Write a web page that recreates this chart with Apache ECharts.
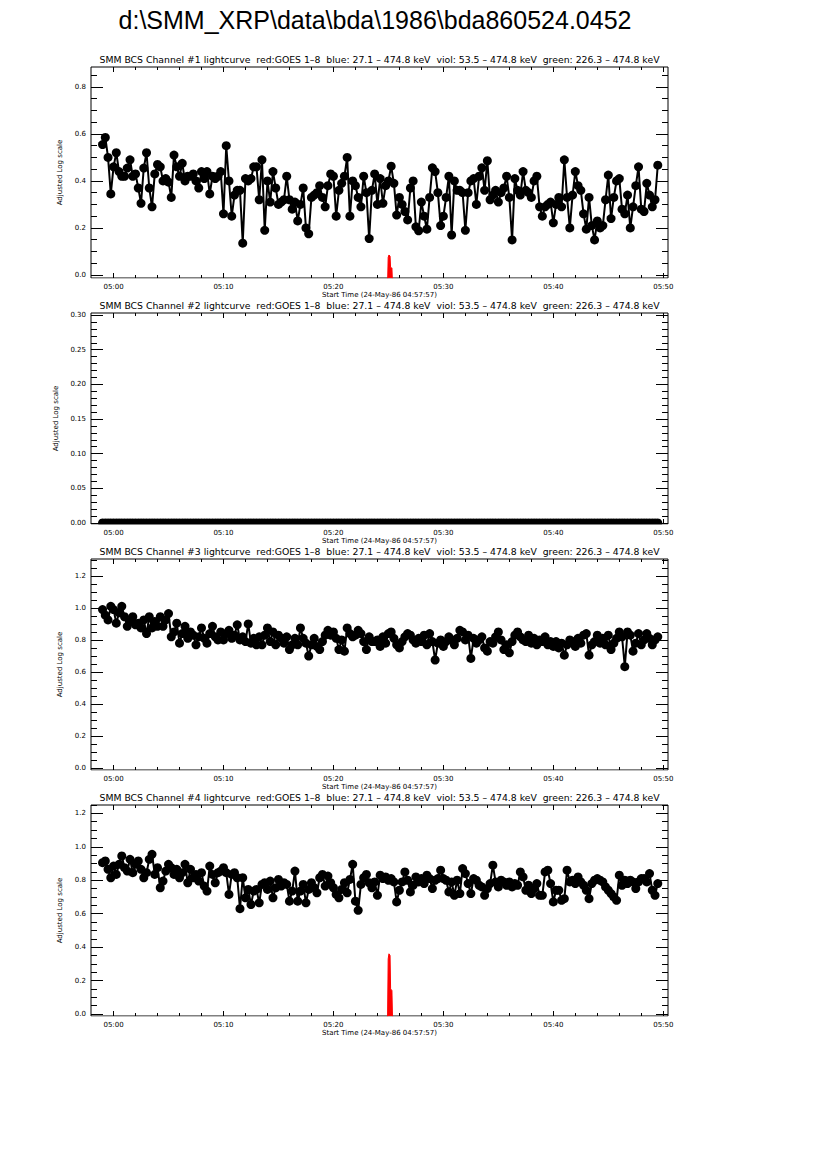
<!DOCTYPE html>
<html>
<head>
<meta charset="utf-8">
<title>bda860524.0452</title>
<script src="https://cdn.jsdelivr.net/npm/echarts@6.0.0/dist/echarts.min.js"></script>
<style>
  html, body { margin: 0; padding: 0; background: #fff; }
  #chart { width: 826px; height: 1169px; }
</style>
</head>
<body>
<div id="chart"></div>
<script>
// sample times, minutes after 05:00 UT
const times = [
  -1, -0.75, -0.5, -0.25,
  0, 0.25, 0.5, 0.75, 1, 1.25, 1.5, 1.75, 2, 2.25, 2.5, 2.75, 3, 3.25, 3.5, 3.75,
  4, 4.25, 4.5, 4.75, 5, 5.25, 5.5, 5.75, 6, 6.25, 6.5, 6.75, 7, 7.25, 7.5, 7.75,
  8, 8.25, 8.5, 8.75, 9, 9.25, 9.5, 9.75, 10, 10.25, 10.5, 10.75, 11, 11.25, 11.5, 11.75,
  12, 12.25, 12.5, 12.75, 13, 13.25, 13.5, 13.75, 14, 14.25, 14.5, 14.75, 15, 15.25, 15.5, 15.75,
  16, 16.25, 16.5, 16.75, 17, 17.25, 17.5, 17.75, 18, 18.25, 18.5, 18.75, 19, 19.25, 19.5, 19.75,
  20, 20.25, 20.5, 20.75, 21, 21.25, 21.5, 21.75, 22, 22.25, 22.5, 22.75, 23, 23.25, 23.5, 23.75,
  24, 24.25, 24.5, 24.75, 25, 25.25, 25.5, 25.75, 26, 26.25, 26.5, 26.75, 27, 27.25, 27.5, 27.75,
  28, 28.25, 28.5, 28.75, 29, 29.25, 29.5, 29.75, 30, 30.25, 30.5, 30.75, 31, 31.25, 31.5, 31.75,
  32, 32.25, 32.5, 32.75, 33, 33.25, 33.5, 33.75, 34, 34.25, 34.5, 34.75, 35, 35.25, 35.5, 35.75,
  36, 36.25, 36.5, 36.75, 37, 37.25, 37.5, 37.75, 38, 38.25, 38.5, 38.75, 39, 39.25, 39.5, 39.75,
  40, 40.25, 40.5, 40.75, 41, 41.25, 41.5, 41.75, 42, 42.25, 42.5, 42.75, 43, 43.25, 43.5, 43.75,
  44, 44.25, 44.5, 44.75, 45, 45.25, 45.5, 45.75, 46, 46.25, 46.5, 46.75, 47, 47.25, 47.5, 47.75,
  48, 48.25, 48.5, 48.75, 49, 49.25, 49.5
];

// channel #1
const ch1 = [
  0.555, 0.585, 0.50, 0.345, 0.46, 0.52, 0.44, 0.42, 0.42, 0.455,
  0.49, 0.42, 0.43, 0.37, 0.305, 0.455, 0.52, 0.37, 0.29, 0.43,
  0.47, 0.46, 0.40, 0.41, 0.395, 0.33, 0.51, 0.46, 0.42, 0.475,
  0.40, 0.42, 0.42, 0.43, 0.40, 0.37, 0.44, 0.41, 0.44, 0.345,
  0.42, 0.41, 0.42, 0.44, 0.26, 0.55, 0.40, 0.25, 0.34, 0.36,
  0.36, 0.135, 0.41, 0.40, 0.41, 0.46, 0.46, 0.32, 0.49, 0.19,
  0.40, 0.31, 0.44, 0.37, 0.30, 0.31, 0.32, 0.42, 0.32, 0.28,
  0.31, 0.23, 0.30, 0.37, 0.20, 0.175, 0.33, 0.34, 0.35, 0.38,
  0.33, 0.29, 0.38, 0.43, 0.42, 0.25, 0.36, 0.39, 0.42, 0.50,
  0.25, 0.40, 0.38, 0.33, 0.29, 0.42, 0.35, 0.155,
  0.36, 0.43, 0.30, 0.41, 0.305, 0.38, 0.40, 0.463, 0.39, 0.255,
  0.33, 0.30, 0.27, 0.234, 0.37, 0.40, 0.205, 0.188, 0.31, 0.25,
  0.195, 0.33, 0.456, 0.44, 0.35, 0.21, 0.25, 0.33, 0.42, 0.17,
  0.40, 0.36, 0.36, 0.35, 0.19, 0.35, 0.40, 0.41, 0.30, 0.42,
  0.456, 0.36, 0.486, 0.32, 0.34, 0.36, 0.31, 0.35, 0.37, 0.42,
  0.33, 0.149, 0.41, 0.36, 0.34, 0.44, 0.36, 0.35, 0.33, 0.40,
  0.42, 0.29, 0.25, 0.29, 0.30, 0.31, 0.222, 0.30, 0.33, 0.29,
  0.49, 0.33, 0.20, 0.34, 0.44, 0.38, 0.36, 0.26, 0.195, 0.33,
  0.21, 0.149, 0.23, 0.20, 0.21, 0.32, 0.425, 0.24, 0.33, 0.40,
  0.41, 0.28, 0.26, 0.34, 0.20, 0.29, 0.38, 0.46, 0.28, 0.27,
  0.39, 0.34, 0.29, 0.32, 0.467
];

// channel #2 (flat at zero)
const ch2 = [
  0, 0, 0, 0, 0, 0, 0, 0, 0, 0, 0, 0, 0, 0, 0, 0, 0, 0, 0, 0,
  0, 0, 0, 0, 0, 0, 0, 0, 0, 0, 0, 0, 0, 0, 0, 0, 0, 0, 0, 0,
  0, 0, 0, 0, 0, 0, 0, 0, 0, 0, 0, 0, 0, 0, 0, 0, 0, 0, 0, 0,
  0, 0, 0, 0, 0, 0, 0, 0, 0, 0, 0, 0, 0, 0, 0, 0, 0, 0, 0, 0,
  0, 0, 0, 0, 0, 0, 0, 0, 0, 0, 0, 0, 0, 0, 0, 0, 0, 0, 0, 0,
  0, 0, 0, 0, 0, 0, 0, 0, 0, 0, 0, 0, 0, 0, 0, 0, 0, 0, 0, 0,
  0, 0, 0, 0, 0, 0, 0, 0, 0, 0, 0, 0, 0, 0, 0, 0, 0, 0, 0, 0,
  0, 0, 0, 0, 0, 0, 0, 0, 0, 0, 0, 0, 0, 0, 0, 0, 0, 0, 0, 0,
  0, 0, 0, 0, 0, 0, 0, 0, 0, 0, 0, 0, 0, 0, 0, 0, 0, 0, 0, 0,
  0, 0, 0, 0, 0, 0, 0, 0, 0, 0, 0, 0, 0, 0, 0, 0, 0, 0, 0, 0,
  0, 0, 0
];

// channel #3
const ch3 = [
  0.99, 0.955, 0.925, 1.01, 0.99, 0.905, 0.97, 1.01, 0.945, 0.885,
  0.915, 0.945, 0.895, 0.905, 0.875, 0.925, 0.84, 0.945, 0.875, 0.915,
  0.885, 0.945, 0.885, 0.925, 0.965, 0.82, 0.85, 0.905, 0.78, 0.84,
  0.885, 0.81, 0.85, 0.83, 0.77, 0.82, 0.875, 0.81, 0.78, 0.84,
  0.885, 0.82, 0.80, 0.85, 0.80, 0.84, 0.86, 0.81, 0.83, 0.895,
  0.80, 0.82, 0.79, 0.90, 0.78, 0.81, 0.77, 0.82, 0.77, 0.83,
  0.875, 0.79, 0.85, 0.77, 0.83, 0.81, 0.78, 0.82, 0.74, 0.77,
  0.81, 0.77, 0.875, 0.81, 0.78, 0.70, 0.77, 0.81, 0.76, 0.74,
  0.79, 0.83, 0.86, 0.83, 0.85, 0.81, 0.74, 0.80, 0.73, 0.875,
  0.84, 0.82, 0.83, 0.86, 0.84, 0.79, 0.74, 0.82, 0.79,
  0.79, 0.80, 0.76, 0.82, 0.78, 0.84, 0.85, 0.81, 0.77, 0.75,
  0.79, 0.82, 0.84, 0.83, 0.80, 0.78, 0.81, 0.79, 0.83, 0.77,
  0.84, 0.79, 0.675, 0.78, 0.80, 0.76, 0.79, 0.82, 0.80, 0.77,
  0.81, 0.86, 0.85, 0.80, 0.83, 0.685, 0.81, 0.78, 0.80, 0.82,
  0.75, 0.73, 0.79, 0.78, 0.82, 0.85, 0.80, 0.74, 0.77, 0.72,
  0.79, 0.83, 0.85, 0.82, 0.80, 0.79, 0.83, 0.78, 0.81, 0.77,
  0.80, 0.79, 0.82, 0.77, 0.79, 0.76, 0.79, 0.75, 0.78, 0.705,
  0.77, 0.80, 0.79, 0.76, 0.81, 0.78, 0.83, 0.84, 0.705, 0.77,
  0.79, 0.83, 0.78, 0.81, 0.77, 0.83, 0.74, 0.78, 0.81, 0.85,
  0.82, 0.633, 0.85, 0.83, 0.73, 0.78, 0.84, 0.77, 0.80, 0.84,
  0.81, 0.77, 0.80, 0.82
];

// channel #4
const ch4 = [
  0.905, 0.915, 0.865, 0.815, 0.885, 0.835, 0.895, 0.945, 0.875, 0.855,
  0.925, 0.845, 0.895, 0.915, 0.865, 0.815, 0.845, 0.925, 0.955, 0.835,
  0.875, 0.755, 0.795, 0.855, 0.895, 0.875, 0.835, 0.865, 0.815, 0.845,
  0.895, 0.785, 0.865, 0.815, 0.835, 0.795, 0.845, 0.765, 0.735, 0.885,
  0.835, 0.785, 0.845, 0.855, 0.875, 0.845, 0.715, 0.835, 0.845, 0.815,
  0.63, 0.815, 0.695, 0.745, 0.655, 0.735, 0.745, 0.665, 0.775, 0.785,
  0.745, 0.795, 0.695, 0.755, 0.805, 0.765, 0.785, 0.775, 0.675, 0.735,
  0.855, 0.675, 0.735, 0.775, 0.665, 0.745, 0.785, 0.755, 0.725, 0.815,
  0.835, 0.765, 0.825, 0.785, 0.755, 0.715, 0.695, 0.745, 0.785, 0.725,
  0.805, 0.895, 0.675, 0.62, 0.775, 0.815, 0.835, 0.785, 0.755,
  0.79, 0.71, 0.83, 0.81, 0.82, 0.80, 0.81, 0.79, 0.67, 0.74,
  0.79, 0.85, 0.80, 0.73, 0.77, 0.82, 0.79, 0.81, 0.78, 0.83,
  0.81, 0.75, 0.80, 0.81, 0.86, 0.81, 0.80, 0.73, 0.79, 0.71,
  0.80, 0.72, 0.87, 0.84, 0.78, 0.72, 0.81, 0.80, 0.77, 0.76,
  0.71, 0.75, 0.78, 0.89, 0.79, 0.76, 0.80, 0.79, 0.77, 0.79,
  0.76, 0.78, 0.77, 0.85, 0.82, 0.74, 0.77, 0.72, 0.75, 0.78,
  0.71, 0.71, 0.85, 0.86, 0.78, 0.67, 0.74, 0.74, 0.68, 0.69,
  0.86, 0.79, 0.80, 0.78, 0.82, 0.79, 0.77, 0.74, 0.69, 0.78,
  0.80, 0.81, 0.80, 0.79, 0.76, 0.74, 0.72, 0.70, 0.68, 0.83,
  0.77, 0.80, 0.78, 0.80, 0.79, 0.75, 0.79, 0.81, 0.81, 0.79,
  0.84, 0.74, 0.71, 0.78
];

// GOES 1-8 overlay (red), only the peak rises above the axis floor
const goesTimes = [24.92, 24.98, 25.05, 25.15, 25.2, 25.32, 25.38];
const goesCh1 = [-0.05, 0.075, 0.085, 0.08, 0.03, 0.03, -0.05];
const goesCh4 = [-0.05, 0.33, 0.36, 0.35, 0.15, 0.14, -0.05];

// tick positions
const timeTicks = [0, 10, 20, 30, 40, 50];
const timeMinorTicks = [2, 4, 6, 8, 12, 14, 16, 18, 22, 24, 26, 28, 32, 34, 36, 38, 42, 44, 46, 48];
const yTicks1 = [0, 0.2, 0.4, 0.6, 0.8];
const yTicks2 = [0, 0.05, 0.1, 0.15, 0.2, 0.25, 0.3];
const yTicks34 = [0, 0.2, 0.4, 0.6, 0.8, 1.0, 1.2];
const yMinor1 = [0.05, 0.1, 0.15, 0.25, 0.3, 0.35, 0.45, 0.5, 0.55, 0.65, 0.7, 0.75, 0.85];
const yMinor2 = [0.01, 0.02, 0.03, 0.04, 0.06, 0.07, 0.08, 0.09, 0.11, 0.12, 0.13, 0.14,
  0.16, 0.17, 0.18, 0.19, 0.21, 0.22, 0.23, 0.24, 0.26, 0.27, 0.28, 0.29];
const yMinor34 = [0.05, 0.1, 0.15, 0.25, 0.3, 0.35, 0.45, 0.5, 0.55, 0.65, 0.7, 0.75,
  0.85, 0.9, 0.95, 1.05, 1.1, 1.15, 1.25, 1.3];

const mainTitle = 'd:\\SMM_XRP\\data\\bda\\1986\\bda860524.0452';
const startLabel = 'Start Time (24-May-86 04:57:57)';
const yName = 'Adjusted Log scale';
const channelTitle = (n) =>
  'SMM BCS Channel #' + n + ' lightcurve  red:GOES 1\u20138  blue: 27.1 \u2013 474.8 keV  viol: 53.5 \u2013 474.8 keV  green: 226.3 \u2013 474.8 keV';

const TITLE_FONT = '"Liberation Sans", Arial, Helvetica, sans-serif';
const FONT = '"DejaVu Sans", Verdana, sans-serif';
const X_MIN = -2.05;
const X_MAX = 50.43;
const GRID_LEFT = 91;
const GRID_WIDTH = 577;
const GRID_HEIGHT = 211;

const panels = [
  { channel: 1, values: ch1, goes: goesCh1, yMin: -0.013, yMax: 0.885, ticks: yTicks1, minor: yMinor1, digits: 1 },
  { channel: 2, values: ch2, goes: null, yMin: -0.0015, yMax: 0.303, ticks: yTicks2, minor: yMinor2, digits: 2 },
  { channel: 3, values: ch3, goes: null, yMin: -0.0125, yMax: 1.306, ticks: yTicks34, minor: yMinor34, digits: 1 },
  { channel: 4, values: ch4, goes: goesCh4, yMin: -0.012, yMax: 1.25, ticks: yTicks34, minor: yMinor34, digits: 1 },
];

// x axis: major or minor ticks, pointing inward like IDL
function timeAxis(gridIndex, position, values, len, withLabels) {
  return {
    type: 'value',
    gridIndex,
    position,
    min: X_MIN,
    max: X_MAX,
    axisLine: { show: false, onZero: false },
    splitLine: { show: false },
    axisTick: { show: true, inside: true, length: len, customValues: values, lineStyle: { color: '#000', width: 1 } },
    axisLabel: withLabels
      ? {
          show: true,
          customValues: values,
          formatter: (v) => '05:' + String(v).padStart(2, '0'),
          fontSize: 7,
          fontFamily: FONT,
          color: '#000',
          margin: 5,
        }
      : { show: false },
    name: withLabels ? startLabel : '',
    nameLocation: 'middle',
    nameGap: 13.6,
    nameTextStyle: { fontSize: 7, fontFamily: FONT, color: '#000' },
  };
}

// y axis
function valueAxis(gridIndex, position, p, values, len, withLabels) {
  return {
    type: 'value',
    gridIndex,
    position,
    min: p.yMin,
    max: p.yMax,
    axisLine: { show: false, onZero: false },
    splitLine: { show: false },
    axisTick: { show: true, inside: true, length: len, customValues: values, lineStyle: { color: '#000', width: 1 } },
    axisLabel: withLabels
      ? {
          show: true,
          customValues: values,
          formatter: (v) => v.toFixed(p.digits),
          fontSize: 7,
          fontFamily: FONT,
          color: '#000',
          margin: 5,
        }
      : { show: false },
    name: withLabels ? yName : '',
    nameLocation: 'middle',
    nameRotate: 90,
    nameGap: 18,
    nameTextStyle: { fontSize: 7, fontFamily: FONT, color: '#000' },
  };
}

const option = {
  animation: false,
  backgroundColor: '#fff',
  grid: [],
  xAxis: [],
  yAxis: [],
  series: [],
  graphic: [
    {
      type: 'text',
      x: 375,
      y: 20,
      style: { text: mainTitle, fontSize: 25, fontFamily: TITLE_FONT, fill: '#000', align: 'center', verticalAlign: 'middle' },
    },
  ],
};

panels.forEach((p, i) => {
  const top = 67 + 246 * i;
  option.grid.push({
    left: GRID_LEFT,
    width: GRID_WIDTH,
    top,
    height: GRID_HEIGHT,
    show: true,
    borderColor: '#000',
    borderWidth: 1,
  });

  // index 4*i is the labelled axis of each panel
  option.xAxis.push(
    timeAxis(i, 'bottom', timeTicks, 5, true),
    timeAxis(i, 'bottom', timeMinorTicks, 3, false),
    timeAxis(i, 'top', timeTicks, 5, false),
    timeAxis(i, 'top', timeMinorTicks, 3, false)
  );
  option.yAxis.push(
    valueAxis(i, 'left', p, p.ticks, 12, true),
    valueAxis(i, 'left', p, p.minor, 6, false),
    valueAxis(i, 'right', p, p.ticks, 12, false),
    valueAxis(i, 'right', p, p.minor, 6, false)
  );

  option.graphic.push({
    type: 'text',
    x: GRID_LEFT + GRID_WIDTH / 2,
    y: top - 7.3,
    style: {
      text: channelTitle(p.channel),
      fontSize: 9.3,
      fontFamily: FONT,
      fill: '#000',
      align: 'center',
      verticalAlign: 'middle',
    },
  });

  // plot symbols are clipped at the frame, as in the original plot window
  option.graphic.push({
    type: 'rect',
    z: 100,
    shape: { x: GRID_LEFT, y: top + GRID_HEIGHT + 0.6, width: GRID_WIDTH + 1, height: 4.5 },
    style: { fill: '#fff' },
  });

  option.series.push({
    type: 'line',
    name: 'Channel #' + p.channel,
    xAxisIndex: 4 * i,
    yAxisIndex: 4 * i,
    data: times.map((t, k) => [t, p.values[k]]),
    symbol: 'circle',
    symbolSize: 9,
    showAllSymbol: true,
    lineStyle: { color: '#000', width: 2 },
    itemStyle: { color: '#000' },
    clip: true,
    z: 2,
  });

  if (p.goes) {
    option.series.push({
      type: 'line',
      name: 'GOES 1-8',
      xAxisIndex: 4 * i,
      yAxisIndex: 4 * i,
      data: goesTimes.map((t, k) => [t, p.goes[k]]),
      symbol: 'none',
      lineStyle: { color: '#ff0000', width: 1 },
      areaStyle: { color: '#ff0000', opacity: 1, origin: 'start' },
      clip: true,
      z: 3,
    });
  }
});

const chart = echarts.init(document.getElementById('chart'), null, { renderer: 'svg' });
chart.setOption(option);
window.addEventListener('resize', () => chart.resize());
</script>
</body>
</html>
